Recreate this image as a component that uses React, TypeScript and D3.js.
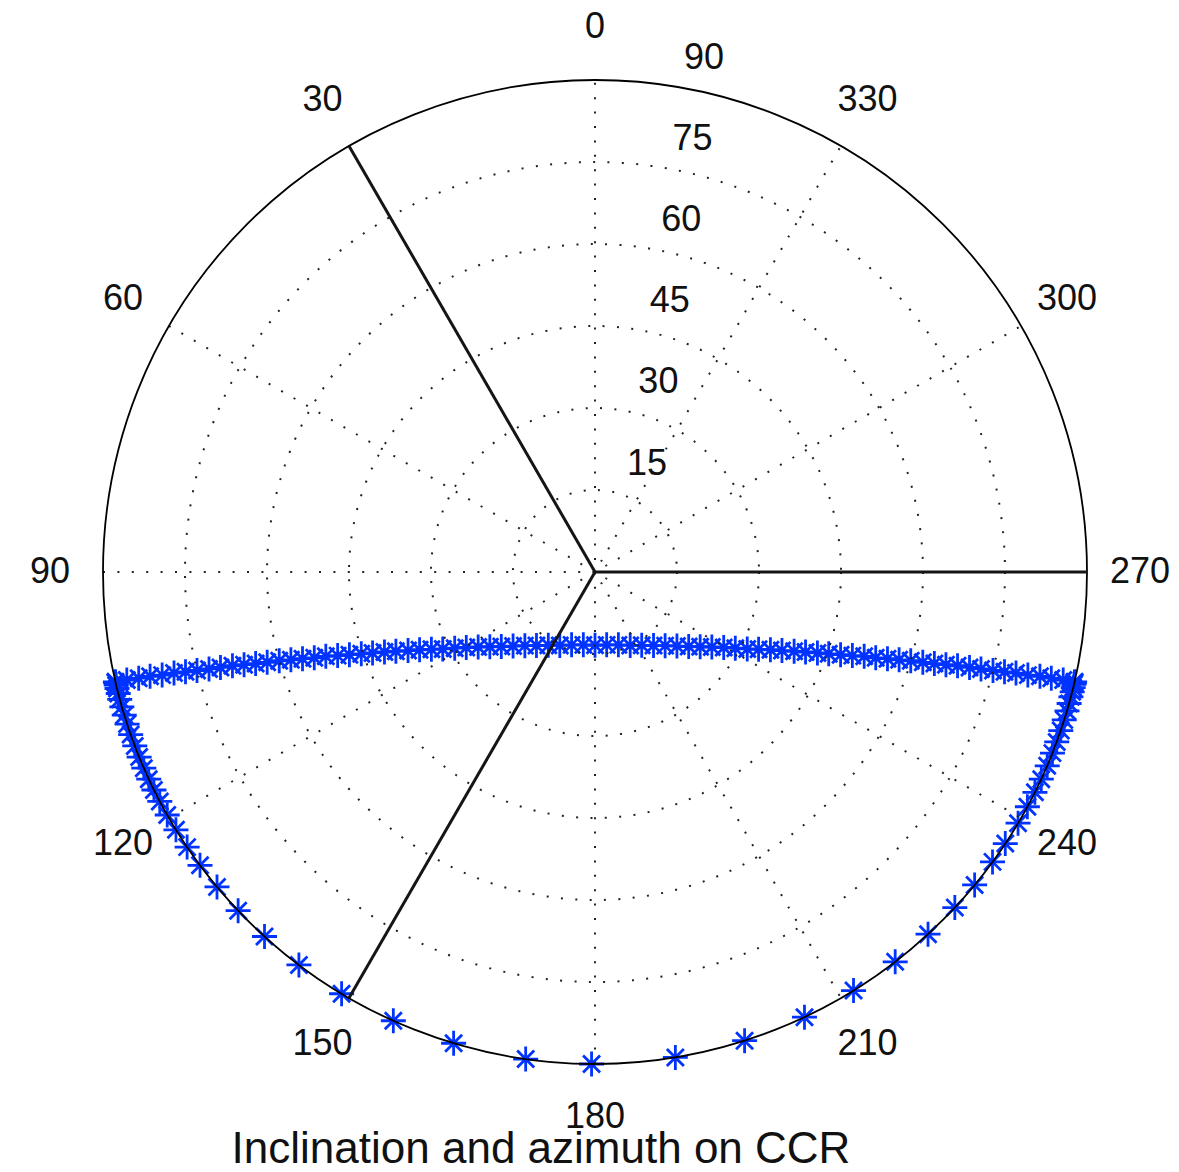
import React, { useEffect, useRef } from 'react';
import * as d3 from 'd3';

// polar grid
const azimuthTicks = [0, 30, 60, 90, 120, 150, 180, 210, 240, 270, 300, 330];
const spokeAngles = [30, 60, 90, 120, 150, 180];
const inclinationRings = [15, 30, 45, 60, 75];
const inclinationLabels = [15, 30, 45, 60, 75, 90];
const ccrEdges = [30, 150, 270];

// upper arc of the trace (azimuth deg, inclination deg)
const arcAzimuth = [
  102.9, 103.0, 103.1, 103.2, 103.4, 103.5, 103.7, 103.9, 104.1, 104.3, 104.5, 104.8, 105.1, 105.4,
  105.7, 106.1, 106.5, 107.0, 107.4, 108.0, 108.6, 109.3, 110.0, 110.8, 111.7, 112.8, 113.9, 115.3,
  116.8, 118.5, 120.4, 122.7, 125.4, 128.5, 132.1, 136.4, 141.5, 147.5, 154.4, 162.2, 170.9, 180.0,
  189.1, 197.8, 205.6, 212.5, 218.5, 223.6, 227.9, 231.5, 234.6, 237.3, 239.6, 241.5, 243.2, 244.7,
  246.1, 247.2, 248.3, 249.2, 250.0, 250.7, 251.4, 252.0, 252.6, 253.0, 253.5, 253.9, 254.3, 254.6,
  254.9, 255.2, 255.5, 255.7, 255.9, 256.1, 256.3, 256.5, 256.6, 256.8, 256.9, 257.0, 257.1,
];
const arcInclination = [
  90.0, 87.9, 85.7, 83.6, 81.4, 79.2, 77.1, 75.0, 72.8, 70.7, 68.5, 66.4, 64.3, 62.2,
  60.0, 57.9, 55.8, 53.7, 51.6, 49.5, 47.4, 45.3, 43.3, 41.2, 39.2, 37.1, 35.1, 33.1,
  31.2, 29.2, 27.3, 25.4, 23.6, 21.9, 20.2, 18.6, 17.2, 15.9, 14.9, 14.0, 13.5, 13.4,
  13.5, 14.0, 14.9, 15.9, 17.2, 18.6, 20.2, 21.9, 23.6, 25.4, 27.3, 29.2, 31.2, 33.1,
  35.1, 37.1, 39.2, 41.2, 43.3, 45.3, 47.4, 49.5, 51.6, 53.7, 55.8, 57.9, 60.0, 62.2,
  64.3, 66.4, 68.5, 70.7, 72.8, 75.0, 77.1, 79.2, 81.4, 83.6, 85.7, 87.9, 90.0,
];

// points lying on the rim (inclination 90)
const rimAzimuth = [
  103.0, 103.3, 103.7, 104.3, 105.0, 105.9, 106.9, 108.0, 109.3, 110.7, 112.1, 113.5, 114.9, 116.3,
  117.8, 119.6, 121.6, 124.0, 126.6, 129.8, 133.5, 137.8, 143.0, 149.0, 155.8, 163.3, 171.9, 179.6,
  189.4, 197.7, 205.2, 211.7, 217.6, 222.6, 227.0, 230.5, 233.9, 236.5, 239.3, 241.5, 243.4, 245.1,
  246.8, 248.4, 249.8, 251.2, 252.5, 253.6, 254.5, 255.3, 255.9, 256.4, 256.8, 257.0,
];
const rimInclination = 90;

const title = 'Inclination and azimuth on CCR';

const App: React.FC = () => {
  const chartRef = useRef<SVGSVGElement | null>(null);

  useEffect(() => {
    const svg = d3.select(chartRef.current);
    svg.selectAll('*').remove();

    const cx = 595;
    const cy = 572;
    const R = 492;
    const font = '"Liberation Sans", Arial, Helvetica, sans-serif';

    const r = d3.scaleLinear().domain([0, 90]).range([0, R]);
    const ang = d3.scaleLinear().domain([0, 360]).range([0, 2 * Math.PI]);
    const px = (az: number, inc: number) => cx - r(inc) * Math.sin(ang(az));
    const py = (az: number, inc: number) => cy - r(inc) * Math.cos(ang(az));

    svg.append('rect').attr('width', 1179).attr('height', 1172).attr('fill', '#fff');

    // data markers
    const pts = [
      ...arcAzimuth.map((az, i) => ({ az, inc: arcInclination[i] })),
      ...rimAzimuth.map((az) => ({ az, inc: rimInclination })),
    ];
    const star = 'M-12.5,0H12.5M0,-12.5V12.5M-8.5,-8.5L8.5,8.5M-8.5,8.5L8.5,-8.5';
    svg
      .append('g')
      .selectAll('path')
      .data(pts)
      .join('path')
      .attr('d', star)
      .attr('transform', (d) => `translate(${px(d.az, d.inc)},${py(d.az, d.inc)})`)
      .attr('fill', 'none')
      .attr('stroke', '#0033ff')
      .attr('stroke-width', 2.8);

    const grid = svg.append('g');

    // dotted rings
    grid
      .selectAll('circle.ring')
      .data(inclinationRings)
      .join('circle')
      .attr('class', 'ring')
      .attr('cx', cx)
      .attr('cy', cy)
      .attr('r', (d) => r(d))
      .attr('fill', 'none')
      .attr('stroke', '#222')
      .attr('stroke-width', 2)
      .attr('stroke-dasharray', '2 12.4');

    // dotted spokes (full diameters)
    grid
      .selectAll('line.spoke')
      .data(spokeAngles)
      .join('line')
      .attr('class', 'spoke')
      .attr('x1', (d) => px(d, 90))
      .attr('y1', (d) => py(d, 90))
      .attr('x2', (d) => px(d + 180, 90))
      .attr('y2', (d) => py(d + 180, 90))
      .attr('stroke', '#222')
      .attr('stroke-width', 2)
      .attr('stroke-dasharray', '2 12.4');

    // outer circle
    grid
      .append('circle')
      .attr('cx', cx)
      .attr('cy', cy)
      .attr('r', r(90))
      .attr('fill', 'none')
      .attr('stroke', '#000')
      .attr('stroke-width', 1.8);

    // CCR edges
    grid
      .selectAll('line.edge')
      .data(ccrEdges)
      .join('line')
      .attr('class', 'edge')
      .attr('x1', px(0, 0))
      .attr('y1', py(0, 0))
      .attr('x2', (d) => px(d, 90))
      .attr('y2', (d) => py(d, 90))
      .attr('stroke', '#151515')
      .attr('stroke-width', 3);

    // azimuth labels
    svg
      .append('g')
      .selectAll('text')
      .data(azimuthTicks)
      .join('text')
      .attr('x', (d) => px(d, 99.7))
      .attr('y', (d) => py(d, 99.7) - 2)
      .attr('dy', '0.36em')
      .attr('text-anchor', 'middle')
      .attr('font-family', font)
      .attr('font-size', 36)
      .attr('fill', '#111')
      .text((d) => d);

    // inclination labels
    svg
      .append('g')
      .selectAll('text')
      .data(inclinationLabels)
      .join('text')
      .attr('x', (d) => px(352, d + 0.75) + 40)
      .attr('y', (d) => py(352, d + 0.75) - 25)
      .attr('dy', '0.36em')
      .attr('text-anchor', 'middle')
      .attr('font-family', font)
      .attr('font-size', 36)
      .attr('fill', '#111')
      .text((d) => d);

    svg
      .append('text')
      .attr('x', 541)
      .attr('y', 1163)
      .attr('text-anchor', 'middle')
      .attr('font-family', font)
      .attr('font-size', 44)
      .attr('fill', '#111')
      .text(title);
  }, []);

  return (
    <div>
      <svg
        ref={chartRef}
        width={1179}
        height={1172}
        style={{ position: 'absolute', left: 0, top: 0 }}
      ></svg>
    </div>
  );
};

export default App;
